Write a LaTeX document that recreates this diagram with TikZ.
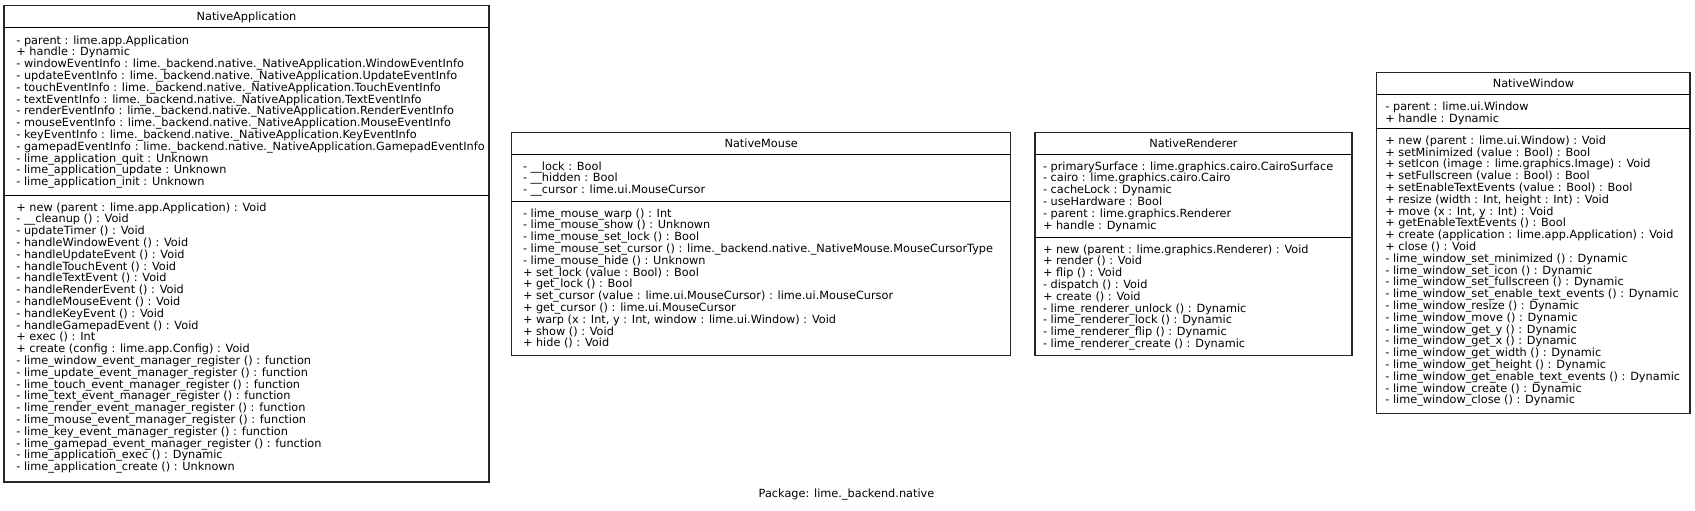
\documentclass[tikz,border=0pt]{standalone}
\usepackage{fontspec}
\setmainfont{DejaVu Sans}
\newcommand\umlfont{\fontsize{11.3}{11.8}\selectfont}
\begin{document}
\begin{tikzpicture}[x=1pt,y=-1pt,
  umlbox/.style={draw=black!85, line width=1.2pt, inner sep=0pt, outer sep=0pt, anchor=north west, fill=white},
  sepline/.style={draw=black, line width=1pt},
  ttl/.style={font=\umlfont, anchor=base, inner sep=0pt},
  comp/.style={font=\umlfont, align=left, anchor=base west, inner sep=0pt}]
\useasboundingbox (0,0) rectangle (1695,511);
% ---------------- NativeApplication
\node[umlbox, minimum width=485pt, minimum height=476.3pt] (app) at (4,5.7) {};
\draw[sepline] (4,27.7) -- (489,27.7);
\draw[sepline] (4,195) -- (489,195);
\node[ttl] (apptitle) at (246.5,20.7) {NativeApplication};
% anchor base = baseline of the last line
\node[comp] (appattr) at (16.2,185.6) {%
- parent : lime.app.Application\\
+ handle : Dynamic\\
- windowEventInfo : lime.\_backend.native.\_NativeApplication.WindowEventInfo\\
- updateEventInfo : lime.\_backend.native.\_NativeApplication.UpdateEventInfo\\
- touchEventInfo : lime.\_backend.native.\_NativeApplication.TouchEventInfo\\
- textEventInfo : lime.\_backend.native.\_NativeApplication.TextEventInfo\\
- renderEventInfo : lime.\_backend.native.\_NativeApplication.RenderEventInfo\\
- mouseEventInfo : lime.\_backend.native.\_NativeApplication.MouseEventInfo\\
- keyEventInfo : lime.\_backend.native.\_NativeApplication.KeyEventInfo\\
- gamepadEventInfo : lime.\_backend.native.\_NativeApplication.GamepadEventInfo\\
- lime\_application\_quit : Unknown\\
- lime\_application\_update : Unknown\\
- lime\_application\_init : Unknown};
\node[comp] (appmeth) at (16.2,470.6) {%
+ new (parent : lime.app.Application) : Void\\
- \_\_cleanup () : Void\\
- updateTimer () : Void\\
- handleWindowEvent () : Void\\
- handleUpdateEvent () : Void\\
- handleTouchEvent () : Void\\
- handleTextEvent () : Void\\
- handleRenderEvent () : Void\\
- handleMouseEvent () : Void\\
- handleKeyEvent () : Void\\
- handleGamepadEvent () : Void\\
+ exec () : Int\\
+ create (config : lime.app.Config) : Void\\
- lime\_window\_event\_manager\_register () : function\\
- lime\_update\_event\_manager\_register () : function\\
- lime\_touch\_event\_manager\_register () : function\\
- lime\_text\_event\_manager\_register () : function\\
- lime\_render\_event\_manager\_register () : function\\
- lime\_mouse\_event\_manager\_register () : function\\
- lime\_key\_event\_manager\_register () : function\\
- lime\_gamepad\_event\_manager\_register () : function\\
- lime\_application\_exec () : Dynamic\\
- lime\_application\_create () : Unknown};
% ---------------- NativeMouse
\node[umlbox, minimum width=499pt, minimum height=222.9pt] (mouse) at (511.7,132.8) {};
\draw[sepline] (511.7,154) -- (1010.7,154);
\draw[sepline] (511.7,201) -- (1010.7,201);
\node[ttl] (mousetitle) at (761.2,147.8) {NativeMouse};
\node[comp] (mouseattr) at (522.8,193.6) {%
- \_\_lock : Bool\\
- \_\_hidden : Bool\\
- \_\_cursor : lime.ui.MouseCursor};
\node[comp] (mousemeth) at (522.8,346.8) {%
- lime\_mouse\_warp () : Int\\
- lime\_mouse\_show () : Unknown\\
- lime\_mouse\_set\_lock () : Bool\\
- lime\_mouse\_set\_cursor () : lime.\_backend.native.\_NativeMouse.MouseCursorType\\
- lime\_mouse\_hide () : Unknown\\
+ set\_lock (value : Bool) : Bool\\
+ get\_lock () : Bool\\
+ set\_cursor (value : lime.ui.MouseCursor) : lime.ui.MouseCursor\\
+ get\_cursor () : lime.ui.MouseCursor\\
+ warp (x : Int, y : Int, window : lime.ui.Window) : Void\\
+ show () : Void\\
+ hide () : Void};
% ---------------- NativeRenderer
\node[umlbox, minimum width=317pt, minimum height=222.4pt] (rend) at (1035,132.8) {};
\draw[sepline] (1035,154) -- (1352,154);
\draw[sepline] (1035,237) -- (1352,237);
\node[ttl] (rendtitle) at (1193.5,147.8) {NativeRenderer};
\node[comp] (rendattr) at (1042.8,229) {%
- primarySurface : lime.graphics.cairo.CairoSurface\\
- cairo : lime.graphics.cairo.Cairo\\
- cacheLock : Dynamic\\
- useHardware : Bool\\
- parent : lime.graphics.Renderer\\
+ handle : Dynamic};
\node[comp] (rendmeth) at (1042.8,347.4) {%
+ new (parent : lime.graphics.Renderer) : Void\\
+ render () : Void\\
+ flip () : Void\\
- dispatch () : Void\\
+ create () : Void\\
- lime\_renderer\_unlock () : Dynamic\\
- lime\_renderer\_lock () : Dynamic\\
- lime\_renderer\_flip () : Dynamic\\
- lime\_renderer\_create () : Dynamic};
% ---------------- NativeWindow
\node[umlbox, minimum width=313.3pt, minimum height=341.2pt] (win) at (1376.7,72.3) {};
\draw[sepline] (1376.7,94.3) -- (1690,94.3);
\draw[sepline] (1376.7,128.3) -- (1690,128.3);
\node[ttl] (wintitle) at (1533.4,87.3) {NativeWindow};
\node[comp] (winattr) at (1385.2,122.1) {%
- parent : lime.ui.Window\\
+ handle : Dynamic};
\node[comp] (winmeth) at (1385.2,403.9) {%
+ new (parent : lime.ui.Window) : Void\\
+ setMinimized (value : Bool) : Bool\\
+ setIcon (image : lime.graphics.Image) : Void\\
+ setFullscreen (value : Bool) : Bool\\
+ setEnableTextEvents (value : Bool) : Bool\\
+ resize (width : Int, height : Int) : Void\\
+ move (x : Int, y : Int) : Void\\
+ getEnableTextEvents () : Bool\\
+ create (application : lime.app.Application) : Void\\
+ close () : Void\\
- lime\_window\_set\_minimized () : Dynamic\\
- lime\_window\_set\_icon () : Dynamic\\
- lime\_window\_set\_fullscreen () : Dynamic\\
- lime\_window\_set\_enable\_text\_events () : Dynamic\\
- lime\_window\_resize () : Dynamic\\
- lime\_window\_move () : Dynamic\\
- lime\_window\_get\_y () : Dynamic\\
- lime\_window\_get\_x () : Dynamic\\
- lime\_window\_get\_width () : Dynamic\\
- lime\_window\_get\_height () : Dynamic\\
- lime\_window\_get\_enable\_text\_events () : Dynamic\\
- lime\_window\_create () : Dynamic\\
- lime\_window\_close () : Dynamic};
% ---------------- package label
\node[ttl] (pkg) at (846.5,497) {Package: lime.\_backend.native};
\end{tikzpicture}
\end{document}
